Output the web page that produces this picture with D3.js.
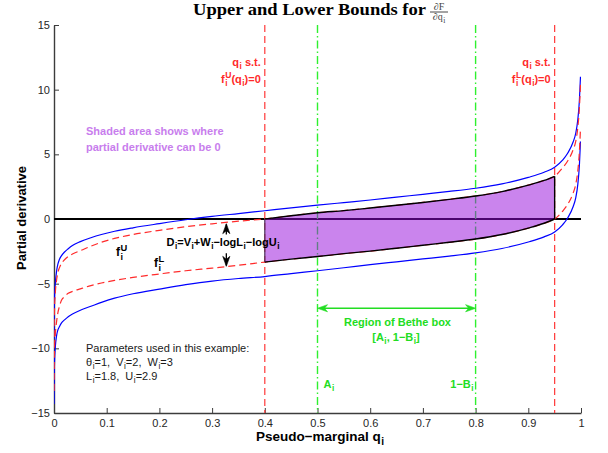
<!DOCTYPE html>
<html>
<head>
<meta charset="utf-8">
<script src="https://cdn.jsdelivr.net/npm/d3@7"></script>
<style>
  body { margin: 0; background: #fff; }
  text { font-family: "Liberation Sans", Arial, Helvetica, sans-serif; white-space: pre; }
</style>
</head>
<body>
<script>
// pseudo-marginal sample points and curve values
var qs        = [0.0001, 0.0005, 0.001, 0.0025, 0.005, 0.0076, 0.01, 0.014, 0.02, 0.027, 0.035, 0.05, 0.07, 0.09, 0.115, 0.15, 0.2, 0.25, 0.3, 0.35, 0.4, 0.45, 0.5, 0.55, 0.6, 0.65, 0.7, 0.75, 0.8, 0.85, 0.9, 0.93, 0.95, 0.965, 0.975, 0.985, 0.99, 0.994, 0.997, 0.999];
var blueUpper = [-9.3, -7.0, -6.1, -4.98, -4.0, -3.45, -3.15, -2.85, -2.55, -2.3, -2.05, -1.75, -1.45, -1.2, -0.95, -0.68, -0.36, -0.06, 0.2, 0.42, 0.64, 0.86, 1.07, 1.27, 1.47, 1.69, 1.91, 2.13, 2.38, 2.72, 3.22, 3.62, 4.0, 4.55, 5.1, 5.95, 6.63, 7.7, 9.2, 11.0];
var blueLower = [-14.3, -12.0, -11.1, -9.9, -9.0, -8.55, -8.35, -8.05, -7.8, -7.55, -7.35, -7.05, -6.75, -6.45, -6.12, -5.78, -5.42, -5.08, -4.8, -4.6, -4.45, -4.22, -4.0, -3.77, -3.53, -3.31, -3.09, -2.87, -2.62, -2.28, -1.78, -1.38, -1.0, -0.45, 0.1, 0.95, 1.63, 2.7, 4.2, 6.0];
var redUpper  = [-10.0, -7.8, -6.9, -5.7, -4.7, -4.1, -3.8, -3.45, -3.15, -2.9, -2.7, -2.45, -2.1, -1.8, -1.5, -1.2, -0.88, -0.6, -0.37, -0.17, 0.0, 0.25, 0.48, 0.65, 0.85, 1.06, 1.28, 1.52, 1.78, 2.12, 2.62, 2.98, 3.3, 3.95, 4.5, 5.35, 6.0, 7.1, 8.6, 10.4];
var redLower  = [-13.3, -11.0, -10.0, -8.9, -7.9, -7.2, -6.8, -6.3, -6.0, -5.75, -5.6, -5.4, -5.15, -4.95, -4.75, -4.52, -4.25, -4.0, -3.8, -3.58, -3.33, -3.1, -2.9, -2.68, -2.48, -2.26, -2.03, -1.8, -1.55, -1.2, -0.7, -0.33, 0.0, 0.6, 1.15, 2.0, 2.68, 3.75, 5.25, 7.0];

var xTicks = [0, 0.1, 0.2, 0.3, 0.4, 0.5, 0.6, 0.7, 0.8, 0.9, 1];
var yTicks = [-15, -10, -5, 0, 5, 10, 15];

// q values where f^U = 0 and f^L = 0, and the Bethe box [A, 1-B]
var qUpperZero = 0.4, qLowerZero = 0.95;
var boxA = 0.5, boxOneMinusB = 0.8;

var W = 608, H = 453;
var plot = {left: 54, right: 581, top: 25, bottom: 413};

var x = d3.scaleLinear().domain([0, 1]).range([plot.left, plot.right]);
var y = d3.scaleLinear().domain([-15, 15]).range([plot.bottom, plot.top]);

var svg = d3.select("body").append("svg")
    .attr("width", W)
    .attr("height", H);

svg.append("defs").append("clipPath").attr("id", "clip")
  .append("rect")
    .attr("x", plot.left).attr("y", plot.top)
    .attr("width", plot.right - plot.left).attr("height", plot.bottom - plot.top);

// little TeX-ish text: a_b, a^b, a_{bc}
function parseTex(s) {
  var out = [], buf = "";
  for (var i = 0; i < s.length; i++) {
    var c = s[i];
    if (c === "_" || c === "^") {
      if (buf) { out.push({text: buf}); buf = ""; }
      var tk = {};
      while (i < s.length && (s[i] === "_" || s[i] === "^")) {
        var k = s[i] === "_" ? "sub" : "sup";
        i++;
        var arg;
        if (s[i] === "{") { var j = s.indexOf("}", i); arg = s.slice(i + 1, j); i = j + 1; }
        else { arg = s[i]; i++; }
        tk[k] = arg;
      }
      i--;
      out.push(tk);
    } else buf += c;
  }
  if (buf) out.push({text: buf});
  return out;
}

function tex(str, px, py, o) {
  var size = o.size || 11;
  var g = svg.append("g");
  var cx = 0;
  function piece(t, dx, dy, fs) {
    var el = g.append("text")
        .attr("x", cx + dx).attr("y", dy)
        .attr("xml:space", "preserve")
        .style("font-size", fs + "px")
        .style("font-weight", o.weight || "normal")
        .style("fill", o.fill || "#000")
        .text(t);
    if (o.family) el.style("font-family", o.family);
    return el.node().getComputedTextLength();
  }
  parseTex(str).forEach(function(tk) {
    if (tk.text !== undefined) {
      cx += piece(tk.text, 0, 0, size);
    } else {
      var w = 0;
      if (tk.sup) w = Math.max(w, piece(tk.sup, 0.5, -size * 0.42, size * 0.78));
      if (tk.sub) w = Math.max(w, piece(tk.sub, 0.5, size * 0.3, size * 0.75));
      cx += w + 0.5;
    }
  });
  var shift = o.anchor === "end" ? -cx : (o.anchor === "middle" ? -cx / 2 : 0);
  g.attr("transform", "translate(" + (px + shift) + "," + py + ")");
  if (o.rotate) g.attr("transform", "translate(" + px + "," + py + ") rotate(" + o.rotate + ") translate(" + shift + ",0)");
  return g;
}

function arrowHead(tx, ty, dx, dy, color) {
  var len = 10, half = 3.6, notch = 7;
  var nx = -dy, ny = dx;
  var pts = [
    [tx, ty],
    [tx - dx * len + nx * half, ty - dy * len + ny * half],
    [tx - dx * notch, ty - dy * notch],
    [tx - dx * len - nx * half, ty - dy * len - ny * half]
  ];
  svg.append("path")
      .attr("d", "M" + pts.map(function(p) { return p.join(","); }).join("L") + "Z")
      .attr("fill", color)
      .attr("stroke", color)
      .attr("stroke-width", 0.6);
}

// axes (left and bottom only, ticks inside)
var xAxis = svg.append("g")
    .attr("transform", "translate(0," + plot.bottom + ")")
    .call(d3.axisBottom(x).tickValues(xTicks).tickSize(-5).tickSizeOuter(0).tickPadding(6)
      .tickFormat(function(d) { return String(d); }));
var yAxis = svg.append("g")
    .attr("transform", "translate(" + plot.left + ",0)")
    .call(d3.axisLeft(y).tickValues(yTicks).tickSize(-5).tickSizeOuter(0).tickPadding(4)
      .tickFormat(function(d) { return d < 0 ? "\u2212" + Math.abs(d) : String(d); }));
[xAxis, yAxis].forEach(function(a) {
  a.select(".domain").attr("stroke", "#3c3c3c").attr("stroke-width", 1.4);
  a.selectAll(".tick line").attr("stroke", "#3c3c3c").attr("stroke-width", 1);
  a.selectAll(".tick text").attr("fill", "#262626").style("font-size", "11px")
    .style("font-family", "'Liberation Sans', Arial, sans-serif");
});

var plotG = svg.append("g").attr("clip-path", "url(#clip)");

function curve(vals) {
  return d3.line()
      .x(function(d, i) { return x(qs[i]); })
      .y(function(d) { return y(d); })
      .curve(d3.curveMonotoneX)(vals);
}

// zero line
plotG.append("line")
    .attr("x1", x(0)).attr("x2", x(1))
    .attr("y1", y(0)).attr("y2", y(0))
    .attr("stroke", "#000").attr("stroke-width", 1.8);

// bounds
[blueUpper, blueLower].forEach(function(v) {
  plotG.append("path").attr("d", curve(v))
      .attr("fill", "none").attr("stroke", "#0000ff").attr("stroke-width", 1.2);
});
[redUpper, redLower].forEach(function(v) {
  plotG.append("path").attr("d", curve(v))
      .attr("fill", "none").attr("stroke", "#ff2b2b").attr("stroke-width", 1.2)
      .attr("stroke-dasharray", "7,4");
});

// vertical markers
[qUpperZero, qLowerZero].forEach(function(q) {
  plotG.append("line")
      .attr("x1", x(q)).attr("x2", x(q)).attr("y1", y(15)).attr("y2", y(-15))
      .attr("stroke", "#ff3838").attr("stroke-width", 1.2).attr("stroke-dasharray", "7,4");
});
[boxA, boxOneMinusB].forEach(function(q) {
  plotG.append("line")
      .attr("x1", x(q)).attr("x2", x(q)).attr("y1", y(15)).attr("y2", y(-15))
      .attr("stroke", "#2ff02f").attr("stroke-width", 1.4).attr("stroke-dasharray", "8,3,1.5,3");
});

// shaded region where the derivative can be zero
var idx = d3.range(qs.length).filter(function(i) { return qs[i] >= qUpperZero && qs[i] <= qLowerZero; });
var shade = d3.area()
    .x(function(i) { return x(qs[i]); })
    .y0(function(i) { return y(redLower[i]); })
    .y1(function(i) { return y(redUpper[i]); })
    .curve(d3.curveMonotoneX);
plotG.append("path").attr("d", shade(idx))
    .attr("fill", "rgb(150,10,220)").attr("fill-opacity", 0.5).attr("stroke", "none");
var edge = d3.line()
    .x(function(i) { return x(qs[i]); })
    .curve(d3.curveMonotoneX);
plotG.append("path").attr("d", edge.y(function(i) { return y(redUpper[i]); })(idx))
    .attr("fill", "none").attr("stroke", "#000").attr("stroke-width", 1.4);
plotG.append("path").attr("d", edge.y(function(i) { return y(redLower[i]); })(idx))
    .attr("fill", "none").attr("stroke", "#000").attr("stroke-width", 1.4);
var iL = qs.indexOf(qUpperZero), iR = qs.indexOf(qLowerZero);
plotG.append("line")
    .attr("x1", x(qLowerZero)).attr("x2", x(qLowerZero))
    .attr("y1", y(redLower[iR])).attr("y2", y(redUpper[iR]))
    .attr("stroke", "#000").attr("stroke-width", 1.4);
plotG.append("line")
    .attr("x1", x(qUpperZero)).attr("x2", x(qUpperZero))
    .attr("y1", y(redLower[iL])).attr("y2", y(redUpper[iL]))
    .attr("stroke", "#4a3358").attr("stroke-width", 1.2);

// title
svg.append("text")
    .attr("x", 193).attr("y", 15)
    .attr("textLength", 233).attr("lengthAdjust", "spacingAndGlyphs")
    .style("font-family", "'Liberation Serif', 'DejaVu Serif', serif")
    .style("font-weight", "bold").style("font-size", "17px")
    .text("Upper and Lower Bounds for");
tex("\u2202F", 439, 10, {size: 10, fill: "#444", anchor: "middle", family: "'Liberation Serif', serif"});
svg.append("line").attr("x1", 430).attr("x2", 448).attr("y1", 12).attr("y2", 12)
    .attr("stroke", "#333").attr("stroke-width", 0.9);
tex("\u2202q_i", 439, 20, {size: 10, fill: "#444", anchor: "middle", family: "'Liberation Serif', serif"});

// axis labels
tex("Pseudo\u2212marginal q_i", 320, 441, {size: 13.5, weight: "bold", fill: "#000", anchor: "middle"});
tex("Partial derivative", 25.5, 218, {size: 13, weight: "bold", fill: "#000", anchor: "middle", rotate: -90});

// annotations
var red = "#ff2a2a", green = "#22dd22", purple = "#c87ded";
tex("q_i s.t.", x(qUpperZero) - 4, 66, {size: 11, weight: "bold", fill: red, anchor: "end"});
tex("f_i^U(q_i)=0", x(qUpperZero) - 4, 83, {size: 11, weight: "bold", fill: red, anchor: "end"});
tex("q_i s.t.", x(qLowerZero) - 4, 66, {size: 11, weight: "bold", fill: red, anchor: "end"});
tex("f_i^L(q_i)=0", x(qLowerZero) - 4, 83, {size: 11, weight: "bold", fill: red, anchor: "end"});

tex("Shaded area shows where", 86, 135, {size: 11, weight: "bold", fill: purple});
tex("partial derivative can be 0", 86, 151, {size: 11, weight: "bold", fill: purple});

tex("f_i^U", 116, 256, {size: 12, weight: "bold", fill: "#000"});
tex("f_i^L", 154, 267, {size: 12, weight: "bold", fill: "#000"});
tex("D_i=V_i+W_i\u2212logL_i\u2212logU_i", 166.5, 246, {size: 11, weight: "bold", fill: "#000"});

// gap arrows between the two red bounds
var arrowQ = 0.327;
svg.append("line").attr("x1", x(arrowQ)).attr("x2", x(arrowQ))
    .attr("y1", y(-1.2)).attr("y2", y(-0.4)).attr("stroke", "#000").attr("stroke-width", 1.3);
arrowHead(x(arrowQ), y(-0.36), 0, -1, "#000");
svg.append("line").attr("x1", x(arrowQ)).attr("x2", x(arrowQ))
    .attr("y1", y(-2.65)).attr("y2", y(-3.6)).attr("stroke", "#000").attr("stroke-width", 1.3);
arrowHead(x(arrowQ), y(-3.66), 0, 1, "#000");

// Bethe box arrow
var boxY = -6.9;
svg.append("line").attr("x1", x(boxA) + 3).attr("x2", x(boxOneMinusB) - 3)
    .attr("y1", y(boxY)).attr("y2", y(boxY)).attr("stroke", green).attr("stroke-width", 1.3);
arrowHead(x(boxA), y(boxY), -1, 0, green);
arrowHead(x(boxOneMinusB), y(boxY), 1, 0, green);
tex("Region of Bethe box", 397.5, 326, {size: 11, weight: "bold", fill: green, anchor: "middle"});
tex("[A_i, 1\u2212B_i]", 396, 341, {size: 11, weight: "bold", fill: green, anchor: "middle"});
tex("A_i", x(boxA) + 6, 388, {size: 11, weight: "bold", fill: green});
tex("1\u2212B_i", x(boxOneMinusB) - 2, 388, {size: 11, weight: "bold", fill: green, anchor: "end"});

// parameters
tex("Parameters used in this example:", 86, 352, {size: 11, fill: "#1a1a1a"});
tex("\u03b8_i=1,  V_i=2,  W_i=3", 86, 365.5, {size: 11, fill: "#1a1a1a"});
tex("L_i=1.8,  U_i=2.9", 86, 379.5, {size: 11, fill: "#1a1a1a"});
</script>
</body>
</html>
